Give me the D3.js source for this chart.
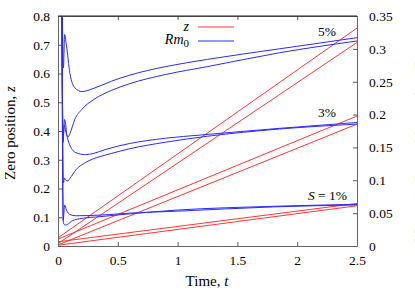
<!DOCTYPE html>
<html>
<head>
<meta charset="utf-8">
<script src="https://cdn.jsdelivr.net/npm/d3@7"></script>
<style>
  body { margin: 0; background: #fff; }
  text { font-family: "Liberation Serif", "DejaVu Serif", serif; }
</style>
</head>
<body>
<svg id="chart" width="415" height="291"></svg>
<script>
// Axis ticks
const xTicks = [0, 0.5, 1, 1.5, 2, 2.5];
const zTicks = [0, 0.1, 0.2, 0.3, 0.4, 0.5, 0.6, 0.7, 0.8];
const rmTicks = [0, 0.05, 0.1, 0.15, 0.2, 0.25, 0.3, 0.35];

// Zero position z(t): straight lines, two per S value
const zTime = [0, 0.006, 2.5];
const z5a = [0, 0.030, 0.758];
const z5b = [0, 0.010, 0.708];
const z3a = [0, 0.025, 0.452];
const z3b = [0, 0.005, 0.424];
const z1a = [0, 0.015, 0.148];
const z1b = [0, 0.003, 0.140];

// Rm0(t), right axis units
const rmTimeA = [0.03, 0.045, 0.056, 0.07, 0.10, 0.14, 0.2, 0.3, 0.45, 0.6, 0.9, 1.25, 1.85, 2.5];
const rm5a = [0.50, 0.271, 0.322, 0.306, 0.2625, 0.241, 0.235, 0.240, 0.251, 0.260, 0.273, 0.284, 0.300, 0.317];
const rmTimeB = [0.03, 0.042, 0.055, 0.065, 0.075, 0.085, 0.1, 0.14, 0.2, 0.3, 0.45, 0.6, 0.9, 1.25, 1.85, 2.5];
const rm5b = [0.50, 0.1575, 0.1925, 0.184, 0.168, 0.166, 0.171, 0.1925, 0.208, 0.223, 0.237, 0.247, 0.261, 0.273, 0.294, 0.312];
const rmTimeC = [0.03, 0.042, 0.052, 0.065, 0.09, 0.15, 0.23, 0.3, 0.4, 0.5, 0.6, 0.9, 1.2, 1.85, 2.5];
const rm3a = [0.50, 0.162, 0.184, 0.175, 0.1575, 0.142, 0.139, 0.141, 0.147, 0.152, 0.156, 0.164, 0.169, 0.179, 0.188];
const rmTimeD = [0.03, 0.045, 0.055, 0.065, 0.08, 0.1, 0.15, 0.23, 0.35, 0.45, 0.6, 0.9, 1.25, 1.85, 2.5];
const rm3b = [0.50, 0.096, 0.103, 0.100, 0.099, 0.103, 0.116, 0.127, 0.136, 0.141, 0.148, 0.158, 0.167, 0.178, 0.1855];
const rmTimeE = [0.03, 0.043, 0.056, 0.07, 0.1, 0.15, 0.35, 0.6, 1.0, 1.8, 2.5];
const rm1a = [0.50, 0.039, 0.0625, 0.055, 0.048, 0.046, 0.047, 0.050, 0.053, 0.0595, 0.0625];
const rmTimeF = [0.03, 0.045, 0.06, 0.08, 0.12, 0.2, 0.35, 0.6, 1.0, 1.8, 2.5];
const rm1b = [0.50, 0.035, 0.032, 0.033, 0.0385, 0.042, 0.0446, 0.049, 0.0547, 0.0604, 0.0634];

const zSeries = [z5a, z5b, z3a, z3b, z1a, z1b];
const rmSeries = [
  [rmTimeA, rm5a], [rmTimeB, rm5b], [rmTimeC, rm3a],
  [rmTimeD, rm3b], [rmTimeE, rm1a], [rmTimeF, rm1b]
];

const svg = d3.select("#chart");
const mLeft = 58, mRight = 357, mTop = 16, mBottom = 246;

const x = d3.scaleLinear().domain([0, 2.5]).range([mLeft, mRight]);
const yZ = d3.scaleLinear().domain([0, 0.8]).range([mBottom, mTop]);
const yRm = d3.scaleLinear().domain([0, 0.35]).range([mBottom, mTop]);

svg.append("clipPath").attr("id", "plot")
  .append("rect")
  .attr("x", mLeft).attr("y", mTop)
  .attr("width", mRight - mLeft).attr("height", mBottom - mTop);

const g = svg.append("g").attr("clip-path", "url(#plot)");

// red lines
zSeries.forEach(vals => {
  const line = d3.line()
    .x((d, i) => x(zTime[i]))
    .y(d => yZ(d));
  g.append("path")
    .attr("d", line(vals))
    .attr("fill", "none")
    .attr("stroke", "#ff3535")
    .attr("stroke-width", 1);
});

// blue curves
rmSeries.forEach(([ts, vals]) => {
  const line = d3.line()
    .curve(d3.curveMonotoneX)
    .x((d, i) => x(ts[i]))
    .y(d => yRm(d));
  g.append("path")
    .attr("d", line(vals))
    .attr("fill", "none")
    .attr("stroke", "#2a2aff")
    .attr("stroke-width", 1);
});

// axes with inward ticks
const fmt = d => d3.format("~g")(d);
const axes = [];
axes.push(svg.append("g")
  .attr("transform", `translate(0,${mBottom})`)
  .call(d3.axisBottom(x).tickValues(xTicks).tickFormat(fmt).tickSizeInner(-4).tickSizeOuter(0).tickPadding(9)));
axes.push(svg.append("g")
  .attr("transform", `translate(0,${mTop})`)
  .call(d3.axisTop(x).tickValues(xTicks).tickFormat("").tickSizeInner(-4).tickSizeOuter(0)));
axes.push(svg.append("g")
  .attr("transform", `translate(${mLeft},0)`)
  .call(d3.axisLeft(yZ).tickValues(zTicks).tickFormat(fmt).tickSizeInner(-4).tickSizeOuter(0).tickPadding(8)));
axes.push(svg.append("g")
  .attr("transform", `translate(${mRight},0)`)
  .call(d3.axisRight(yRm).tickValues(rmTicks).tickFormat(fmt).tickSizeInner(-4).tickSizeOuter(0).tickPadding(12)));
axes.forEach(a => a.attr("font-family", '"Liberation Serif", serif').attr("font-size", 13.5));

svg.selectAll(".tick text").attr("fill", "#000");
svg.selectAll(".tick line").attr("stroke", "#555");
svg.selectAll(".domain").attr("stroke", "#666");
svg.append("line")
  .attr("x1", mLeft).attr("x2", mRight).attr("y1", mTop).attr("y2", mTop)
  .attr("stroke", "#222");

// axis labels
svg.append("text")
  .attr("x", 207).attr("y", 286)
  .attr("text-anchor", "middle").attr("font-size", 15)
  .html('Time, <tspan font-style="italic">t</tspan>');
svg.append("text")
  .attr("transform", `translate(15,${(mTop + mBottom) / 2 + 2}) rotate(-90)`)
  .attr("text-anchor", "middle").attr("font-size", 15)
  .html('Zero position, <tspan font-style="italic">z</tspan>');
svg.append("text")
  .attr("transform", `translate(425,${(mTop + mBottom) / 2 + 15}) rotate(-90)`)
  .attr("text-anchor", "middle").attr("font-size", 15).attr("fill", "#999")
  .html('Magnetic Reynolds number, <tspan font-style="italic">Rm</tspan>');

// legend
svg.append("text").attr("x", 189).attr("y", 31).attr("text-anchor", "end")
  .attr("font-size", 14).attr("font-style", "italic").text("z");
svg.append("line").attr("x1", 198).attr("x2", 234).attr("y1", 27).attr("y2", 27)
  .attr("stroke", "#ff3535");
svg.append("text").attr("x", 189).attr("y", 44).attr("text-anchor", "end")
  .attr("font-size", 14)
  .html('<tspan font-style="italic">Rm</tspan><tspan dy="3" font-size="11">0</tspan>');
svg.append("line").attr("x1", 198).attr("x2", 234).attr("y1", 41).attr("y2", 41)
  .attr("stroke", "#2a2aff");

// S annotations
svg.append("text").attr("x", 327).attr("y", 36).attr("text-anchor", "middle")
  .attr("font-size", 13.5).text("5%");
svg.append("text").attr("x", 327).attr("y", 117).attr("text-anchor", "middle")
  .attr("font-size", 13.5).text("3%");
svg.append("text").attr("x", 347).attr("y", 200).attr("text-anchor", "end")
  .attr("font-size", 13.5)
  .html('<tspan font-style="italic">S</tspan> = 1%');
</script>
</body>
</html>
